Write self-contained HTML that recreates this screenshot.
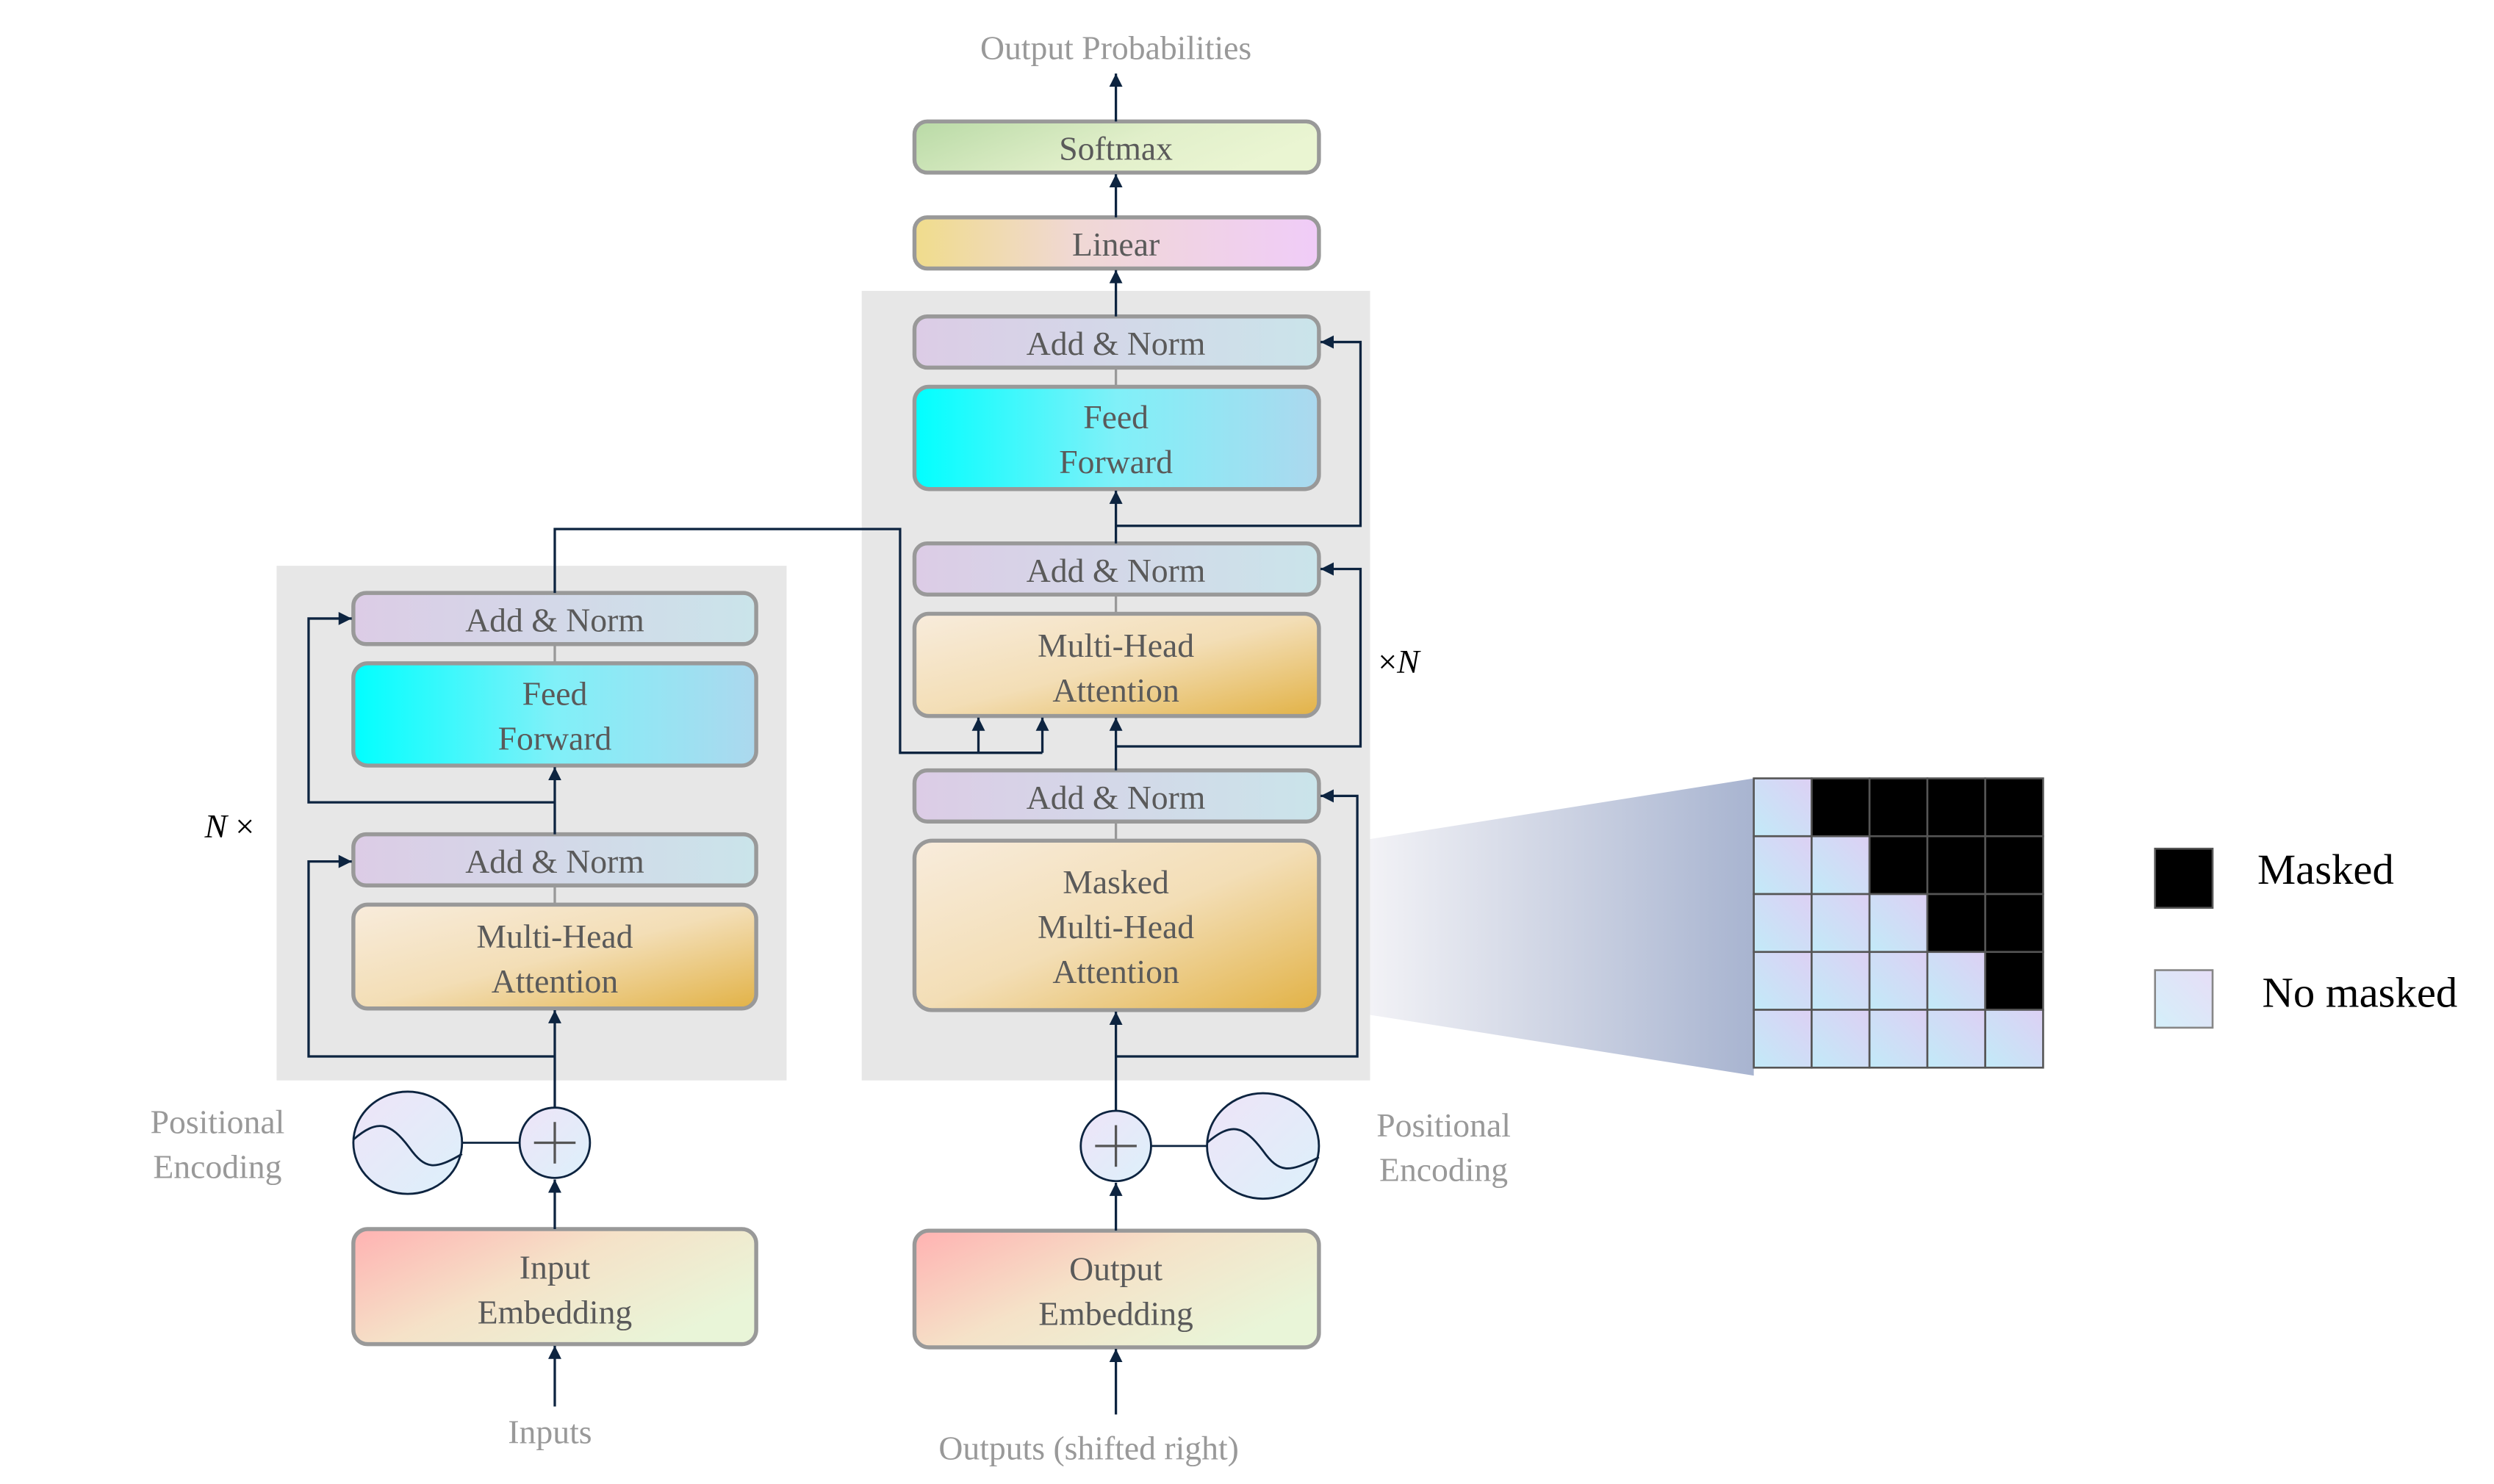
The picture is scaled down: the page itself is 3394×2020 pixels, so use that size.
<!DOCTYPE html>
<html><head><meta charset="utf-8"><style>html,body{margin:0;padding:0;background:#fff;font-family:"Liberation Serif","Times New Roman",Times,"Nimbus Roman","DejaVu Serif",serif;}svg{display:block}text{font-family:"Liberation Serif","Times New Roman",Times,"Nimbus Roman","DejaVu Serif",serif;}</style></head>
<body>
<svg width="3394" height="2020" viewBox="0 0 1560 928.5" xmlns="http://www.w3.org/2000/svg" style="font-family:'Liberation Serif','Times New Roman',Times,'DejaVu Serif',serif">
<defs>
<linearGradient id="an" x1="0" y1="0" x2="1" y2="0"><stop offset="0" stop-color="#dccce6"/><stop offset="1" stop-color="#cae4ea"/></linearGradient>
<linearGradient id="ff" x1="0" y1="0" x2="1" y2="0"><stop offset="0" stop-color="#00ffff"/><stop offset="0.5" stop-color="#80f0f8"/><stop offset="1" stop-color="#acd8ee"/></linearGradient>
<linearGradient id="mh" x1="0" y1="0" x2="1" y2="1"><stop offset="0" stop-color="#f8ecdc"/><stop offset="0.5" stop-color="#f3deb6"/><stop offset="1" stop-color="#e2b246"/></linearGradient>
<linearGradient id="sm" x1="0" y1="0" x2="1" y2="0.3"><stop offset="0" stop-color="#b9daa6"/><stop offset="0.6" stop-color="#e1efca"/><stop offset="1" stop-color="#eaf5d2"/></linearGradient>
<linearGradient id="ln" x1="0" y1="0" x2="1" y2="0"><stop offset="0" stop-color="#f0dc8c"/><stop offset="0.4" stop-color="#f0d8d4"/><stop offset="1" stop-color="#f0ccf8"/></linearGradient>
<linearGradient id="em" x1="0" y1="0" x2="1" y2="0.6"><stop offset="0" stop-color="#ffb2b2"/><stop offset="0.5" stop-color="#f5e2c8"/><stop offset="1" stop-color="#e9f5d8"/></linearGradient>
<linearGradient id="ci" x1="0" y1="0" x2="1" y2="1"><stop offset="0" stop-color="#eee4f8"/><stop offset="1" stop-color="#dcf0fa"/></linearGradient>
<linearGradient id="cell" x1="0" y1="1" x2="1" y2="0"><stop offset="0" stop-color="#c2eaf8"/><stop offset="1" stop-color="#ddd0f4"/></linearGradient>
<linearGradient id="fun" x1="0" y1="0" x2="1" y2="0"><stop offset="0" stop-color="#f2f2f6"/><stop offset="1" stop-color="#a8b4d0"/></linearGradient>
<marker id="ar" viewBox="0 0 10 10" refX="10" refY="5" markerWidth="5.5" markerHeight="5.5" orient="auto-start-reverse"><path d="M0,0 L10,5 L0,10 z" fill="#0d2440"/></marker>
</defs>

<rect x="173" y="354" width="319" height="322" fill="#e7e7e7"/>
<rect x="539" y="182" width="318" height="494" fill="#e7e7e7"/>

<path d="M857,525 L1097,487 L1097,673 L857,635 Z" fill="url(#fun)"/>

<g stroke="#999" stroke-width="1.5">
<line x1="347" y1="403" x2="347" y2="415"/><line x1="347" y1="554" x2="347" y2="566"/>
<line x1="698" y1="230" x2="698" y2="242"/><line x1="698" y1="372" x2="698" y2="384"/><line x1="698" y1="514" x2="698" y2="526"/>
</g>

<g stroke="#999" stroke-width="2.5">
<rect x="221" y="371" width="252" height="32" rx="8" fill="url(#an)"/>
<rect x="221" y="415" width="252" height="64" rx="9" fill="url(#ff)"/>
<rect x="221" y="522" width="252" height="32" rx="8" fill="url(#an)"/>
<rect x="221" y="566" width="252" height="65" rx="9" fill="url(#mh)"/>
<rect x="221" y="769" width="252" height="72" rx="9" fill="url(#em)"/>
<rect x="572" y="76" width="253" height="32" rx="8" fill="url(#sm)"/>
<rect x="572" y="136" width="253" height="32" rx="8" fill="url(#ln)"/>
<rect x="572" y="198" width="253" height="32" rx="8" fill="url(#an)"/>
<rect x="572" y="242" width="253" height="64" rx="9" fill="url(#ff)"/>
<rect x="572" y="340" width="253" height="32" rx="8" fill="url(#an)"/>
<rect x="572" y="384" width="253" height="64" rx="9" fill="url(#mh)"/>
<rect x="572" y="482" width="253" height="32" rx="8" fill="url(#an)"/>
<rect x="572" y="526" width="253" height="106" rx="11" fill="url(#mh)"/>
<rect x="572" y="770" width="253" height="73" rx="9" fill="url(#em)"/>
</g>

<g fill="#5a5a5a" font-size="21" text-anchor="middle">
<text x="347" y="395">Add &amp; Norm</text>
<text x="347" y="441">Feed</text><text x="347" y="469">Forward</text>
<text x="347" y="546">Add &amp; Norm</text>
<text x="347" y="593">Multi-Head</text><text x="347" y="621">Attention</text>
<text x="347" y="800">Input</text><text x="347" y="828">Embedding</text>
<text x="698" y="100">Softmax</text>
<text x="698" y="160">Linear</text>
<text x="698" y="222">Add &amp; Norm</text>
<text x="698" y="268">Feed</text><text x="698" y="296">Forward</text>
<text x="698" y="364">Add &amp; Norm</text>
<text x="698" y="411">Multi-Head</text><text x="698" y="439">Attention</text>
<text x="698" y="506">Add &amp; Norm</text>
<text x="698" y="559">Masked</text><text x="698" y="587">Multi-Head</text><text x="698" y="615">Attention</text>
<text x="698" y="801">Output</text><text x="698" y="829">Embedding</text>
</g>

<g fill="#999" font-size="21" text-anchor="middle">
<text x="698" y="37">Output Probabilities</text>
<text x="136" y="709">Positional</text><text x="136" y="737">Encoding</text>
<text x="903" y="711">Positional</text><text x="903" y="739">Encoding</text>
<text x="344" y="903">Inputs</text>
<text x="681" y="913">Outputs (shifted right)</text>
</g>
<text x="128" y="524" font-size="21" fill="#000"><tspan font-style="italic">N</tspan> ×</text>
<text x="862" y="421" font-size="21" fill="#000">×<tspan font-style="italic">N</tspan></text>

<g stroke="#0d2440" stroke-width="1.3">
<line x1="289" y1="715" x2="325" y2="715"/>
<ellipse cx="255" cy="715" rx="34" ry="32" fill="url(#ci)"/>
<path d="M221,713 C236,700 244,702 256,718 C266,732 272,732 289,722" fill="none"/>
<circle cx="347" cy="715" r="22" fill="url(#ci)"/>
<line x1="720" y1="717" x2="756" y2="717"/>
<ellipse cx="790" cy="717" rx="35" ry="33" fill="url(#ci)"/>
<path d="M755,715 C770,702 778,704 790,720 C800,734 806,734 825,724" fill="none"/>
<circle cx="698" cy="717" r="22" fill="url(#ci)"/>
</g>
<g stroke="#555" stroke-width="1.5">
<line x1="334" y1="715" x2="360" y2="715"/><line x1="347" y1="702" x2="347" y2="728"/>
<line x1="685" y1="717" x2="711" y2="717"/><line x1="698" y1="704" x2="698" y2="730"/>
</g>

<g stroke="#0d2440" stroke-width="1.5" fill="none">
<path d="M347,880 L347,842" marker-end="url(#ar)"/>
<path d="M347,769 L347,738" marker-end="url(#ar)"/>
<path d="M347,693 L347,632" marker-end="url(#ar)"/>
<path d="M347,661 L193,661 L193,539 L220,539" marker-end="url(#ar)"/>
<path d="M347,522 L347,480" marker-end="url(#ar)"/>
<path d="M347,502 L193,502 L193,387 L220,387" marker-end="url(#ar)"/>
<path d="M347,371 L347,331 L563,331 L563,471 L652,471"/>
<path d="M612,471 L612,449" marker-end="url(#ar)"/>
<path d="M652,471 L652,449" marker-end="url(#ar)"/>
<path d="M698,885 L698,844" marker-end="url(#ar)"/>
<path d="M698,770 L698,740" marker-end="url(#ar)"/>
<path d="M698,695 L698,633" marker-end="url(#ar)"/>
<path d="M698,661 L849,661 L849,498 L826,498" marker-end="url(#ar)"/>
<path d="M698,482 L698,449" marker-end="url(#ar)"/>
<path d="M698,467 L851,467 L851,356 L826,356" marker-end="url(#ar)"/>
<path d="M698,340 L698,307" marker-end="url(#ar)"/>
<path d="M698,329 L851,329 L851,214 L826,214" marker-end="url(#ar)"/>
<path d="M698,198 L698,169" marker-end="url(#ar)"/>
<path d="M698,136 L698,109" marker-end="url(#ar)"/>
<path d="M698,76 L698,46" marker-end="url(#ar)"/>
</g>

<g stroke="#555" stroke-width="1.2">
<rect x="1097" y="487" width="36.2" height="36.2" fill="url(#cell)"/><rect x="1133.2" y="487" width="36.2" height="36.2" fill="#000"/><rect x="1169.4" y="487" width="36.2" height="36.2" fill="#000"/><rect x="1205.6" y="487" width="36.2" height="36.2" fill="#000"/><rect x="1241.8" y="487" width="36.2" height="36.2" fill="#000"/>
<rect x="1097" y="523.2" width="36.2" height="36.2" fill="url(#cell)"/><rect x="1133.2" y="523.2" width="36.2" height="36.2" fill="url(#cell)"/><rect x="1169.4" y="523.2" width="36.2" height="36.2" fill="#000"/><rect x="1205.6" y="523.2" width="36.2" height="36.2" fill="#000"/><rect x="1241.8" y="523.2" width="36.2" height="36.2" fill="#000"/>
<rect x="1097" y="559.4" width="36.2" height="36.2" fill="url(#cell)"/><rect x="1133.2" y="559.4" width="36.2" height="36.2" fill="url(#cell)"/><rect x="1169.4" y="559.4" width="36.2" height="36.2" fill="url(#cell)"/><rect x="1205.6" y="559.4" width="36.2" height="36.2" fill="#000"/><rect x="1241.8" y="559.4" width="36.2" height="36.2" fill="#000"/>
<rect x="1097" y="595.6" width="36.2" height="36.2" fill="url(#cell)"/><rect x="1133.2" y="595.6" width="36.2" height="36.2" fill="url(#cell)"/><rect x="1169.4" y="595.6" width="36.2" height="36.2" fill="url(#cell)"/><rect x="1205.6" y="595.6" width="36.2" height="36.2" fill="url(#cell)"/><rect x="1241.8" y="595.6" width="36.2" height="36.2" fill="#000"/>
<rect x="1097" y="631.8" width="36.2" height="36.2" fill="url(#cell)"/><rect x="1133.2" y="631.8" width="36.2" height="36.2" fill="url(#cell)"/><rect x="1169.4" y="631.8" width="36.2" height="36.2" fill="url(#cell)"/><rect x="1205.6" y="631.8" width="36.2" height="36.2" fill="url(#cell)"/><rect x="1241.8" y="631.8" width="36.2" height="36.2" fill="url(#cell)"/>
<rect x="1348" y="531" width="36" height="37" fill="#000"/>
<rect x="1348" y="607" width="36" height="36" fill="url(#cell)" opacity="0.7"/>
</g>
<text x="1412" y="553" font-size="27" fill="#000">Masked</text>
<text x="1415" y="630" font-size="27" fill="#000">No masked</text>
</svg>
</body></html>
